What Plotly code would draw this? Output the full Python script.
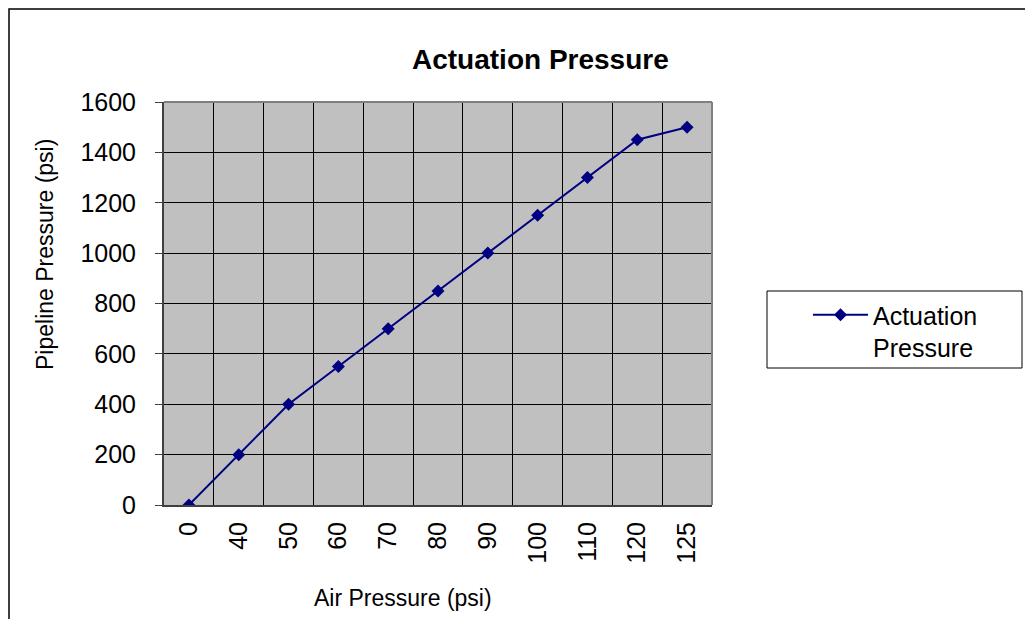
import plotly.graph_objects as go

categories = ["0", "40", "50", "60", "70", "80", "90", "100", "110", "120", "125"]
pipeline_pressure = [0, 200, 400, 550, 700, 850, 1000, 1150, 1300, 1450, 1500]
y_ticks = [0, 200, 400, 600, 800, 1000, 1200, 1400, 1600]

OFF = 8  # page body margin
W, H = 1033, 619
L, R, T, B = 164 - OFF, 712 - OFF, 102 - OFF, 505 - OFF
pw, ph = R - L, B - T

def px(x):
    return (x - OFF - L) / pw

def py(y):
    return (B - (y - OFF)) / ph

FONT = "Liberation Sans, Arial, sans-serif"
NAVY = "#000080"

fig = go.Figure()
fig.add_trace(go.Scatter(
    x=categories, y=pipeline_pressure, mode="lines+markers",
    name="Actuation<br>Pressure",
    line=dict(color=NAVY, width=2),
    marker=dict(symbol="diamond", size=10, color=NAVY),
))

fig.update_layout(
    width=W, height=H,
    margin=dict(l=L, r=W - R, t=T, b=H - B, pad=0),
    paper_bgcolor="white", plot_bgcolor="#C0C0C0",
    font=dict(family=FONT, color="black"),
    showlegend=True,
    legend=dict(
        x=px(808), y=py(292), xanchor="left", yanchor="top",
        borderwidth=0, bgcolor="rgba(0,0,0,0)",
        font=dict(size=25, family=FONT), valign="top", itemwidth=55,
    ),
    xaxis=dict(
        type="category", tickson="boundaries", showgrid=True,
        range=[-0.5, len(categories) - 0.5],
        gridcolor="black", gridwidth=1, ticks="", tickangle=-90,
        tickfont=dict(size=25, family=FONT), showline=True,
        linecolor="#404040", linewidth=2, zeroline=False,
        ticklabelstandoff=5,
    ),
    yaxis=dict(
        range=[0, 1600], tickvals=y_ticks, showgrid=True,
        gridcolor="black", gridwidth=1, ticks="outside", ticklen=7,
        tickcolor="#404040", tickfont=dict(size=25, family=FONT),
        showline=True, linecolor="#404040", linewidth=2, zeroline=False,
        ticklabelstandoff=14,
    ),
)

# plot border top/right (gray)
fig.add_shape(type="line", xref="paper", yref="paper", x0=0, x1=1, y0=1, y1=1,
              line=dict(color="#808080", width=2))
fig.add_shape(type="line", xref="paper", yref="paper", x0=1, x1=1, y0=0, y1=1,
              line=dict(color="#808080", width=2))
# outer chart border (left edge kept inside the drawing area)
fig.add_shape(type="rect", xref="paper", yref="paper",
              x0=px(OFF + 1), x1=px(1045), y0=py(OFF + 1), y1=py(640),
              line=dict(color="black", width=1.5), layer="below")
# legend box
fig.add_shape(type="rect", xref="paper", yref="paper",
              x0=px(767), x1=px(1022), y0=py(291), y1=py(368),
              line=dict(color="black", width=1), fillcolor="white", layer="below")

fig.add_annotation(text="<b>Actuation Pressure</b>", xref="paper", yref="paper",
                   x=px(540), y=py(60), showarrow=False,
                   font=dict(size=28, family=FONT), xanchor="center", yanchor="middle")
fig.add_annotation(text="Air Pressure (psi)", xref="paper", yref="paper",
                   x=px(403), y=py(598), showarrow=False,
                   font=dict(size=23, family=FONT), xanchor="center", yanchor="middle")
fig.add_annotation(text="Pipeline Pressure (psi)", xref="paper", yref="paper",
                   x=px(45), y=py(255), showarrow=False, textangle=-90,
                   font=dict(size=23, family=FONT), xanchor="center", yanchor="middle")

fig.write_html("out.html")
